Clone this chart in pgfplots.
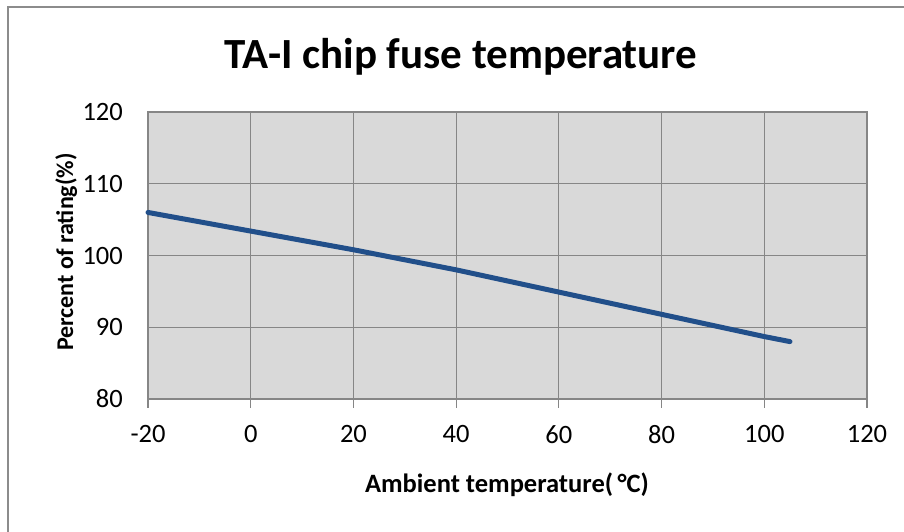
\documentclass[border=0pt]{standalone}
\usepackage{pgfplots}
\pgfplotsset{compat=1.18}
\usepackage{fontspec}
\setmainfont{Carlito}
\definecolor{bgray}{RGB}{217,217,217}
\definecolor{ggray}{RGB}{134,134,134}
\definecolor{fgray}{RGB}{140,140,140}
\definecolor{lblue}{RGB}{33,79,138}
\begin{document}
\begin{tikzpicture}[x=1pt,y=1pt]
\begin{axis}[
  at={(148pt,133pt)}, anchor=south west,
  scale only axis, width=719pt, height=287pt,
  xmin=-20, xmax=120, ymin=80, ymax=120,
  xtick={-20,0,20,40,60,80,100,120},
  xticklabels={-20,0,20,40,60,80,100,120},
  ytick={80,90,100,110,120},
  yticklabels={80,90,100,110,120},
  grid=major,
  major grid style={ggray, line width=1.2pt},
  axis line style={ggray, line width=1.2pt},
  axis background/.style={fill=bgray},
  tick align=outside,
  xtick pos=bottom,
  xtick style={ggray, line width=1.2pt},
  major tick length=9pt,
  ytick style={draw=none},
  xticklabel style={font=\fontsize{26.5}{32}\selectfont, anchor=north, inner sep=0pt, yshift=-17pt},
  yticklabel style={font=\fontsize{26.5}{32}\selectfont, anchor=east, inner sep=0pt, xshift=-16pt},
  clip=false,
]
\addplot[lblue, line width=5pt, line cap=round, line join=round] coordinates {
  (-20,106) (0,103.4) (20,100.8) (40,98) (60,94.9) (80,91.8) (100,88.7) (105,88)
};
\end{axis}
\node[anchor=base, font=\bfseries\fontsize{43}{51}\selectfont] at (461,463) {TA-I chip fuse temperature};
\node[anchor=base, font=\bfseries\fontsize{26.5}{31}\selectfont] at (507,39) {Ambient temperature(\,°C)};
\node[anchor=base, rotate=90, font=\bfseries\fontsize{24}{29}\selectfont] at (73,280) {Percent of rating(\%)};
\draw[fgray, line width=2pt] (8,-20) -- (8,525) -- (930,525);
\pgfresetboundingbox
\useasboundingbox (0,0) rectangle (904,532);
\end{tikzpicture}
\end{document}
